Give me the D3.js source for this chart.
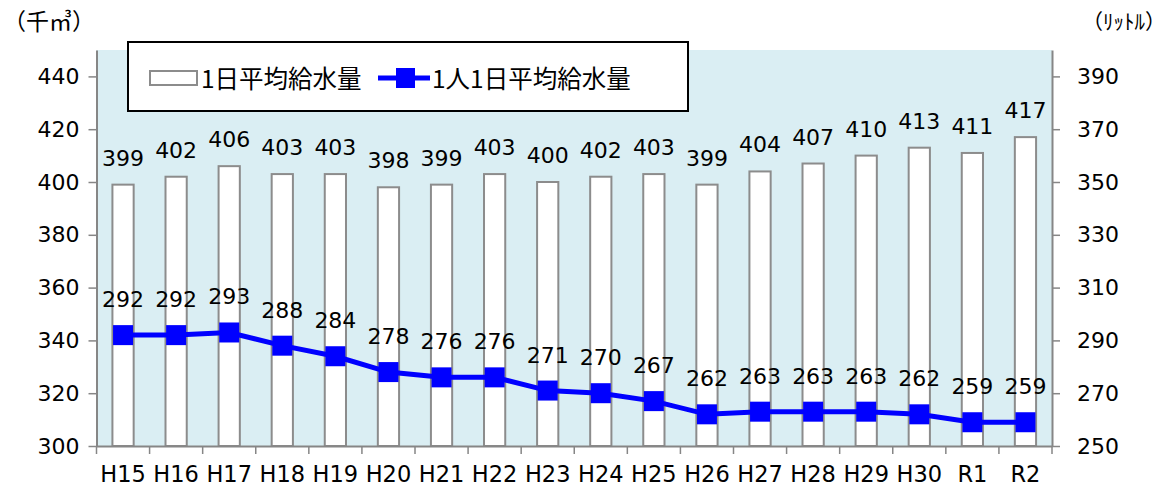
<!DOCTYPE html>
<html>
<head>
<meta charset="utf-8">
<script src="https://cdn.jsdelivr.net/npm/d3@7"></script>
<style>
  body { margin: 0; background: #fff; }
  svg { display: block; }
  text { font-family: "DejaVu Sans", "Noto Sans CJK JP", sans-serif; fill: #000; }
  .jp { font-family: "Noto Sans CJK JP", sans-serif; }
</style>
</head>
<body>
<svg id="chart"></svg>
<script>
// years
const years = ["H15", "H16", "H17", "H18", "H19", "H20", "H21", "H22", "H23",
               "H24", "H25", "H26", "H27", "H28", "H29", "H30", "R1", "R2"];
// 1日平均給水量 (千㎥)
const dailySupply = [399, 402, 406, 403, 403, 398, 399, 403, 400,
                     402, 403, 399, 404, 407, 410, 413, 411, 417];
// 1人1日平均給水量 (リットル)
const perCapita = [292, 292, 293, 288, 284, 278, 276, 276, 271,
                   270, 267, 262, 263, 263, 263, 262, 259, 259];
const leftTicks = [300, 320, 340, 360, 380, 400, 420, 440];
const rightTicks = [250, 270, 290, 310, 330, 350, 370, 390];

const width = 1170, height = 493;
const margin = { top: 50, right: 118, bottom: 47, left: 96.5 };

const svg = d3.select("#chart").attr("width", width).attr("height", height);

const x = d3.scaleBand()
    .domain(years)
    .range([margin.left, width - margin.right])
    .paddingInner(0.6)
    .paddingOuter(0.3);

const yL = d3.scaleLinear().domain([300, 450]).range([height - margin.bottom, margin.top]);
const yR = d3.scaleLinear().domain([250, 400]).range([height - margin.bottom, margin.top]);

const axisGray = "#868686";
const x0 = margin.left, x1 = width - margin.right;
const yb = height - margin.bottom;

// plot background
svg.append("rect")
    .attr("x", x0).attr("y", margin.top)
    .attr("width", x1 - x0).attr("height", yb - margin.top)
    .attr("fill", "#daeef3");

// bars
svg.append("g")
    .selectAll("rect")
    .data(dailySupply)
    .join("rect")
    .attr("x", (d, i) => x(years[i]))
    .attr("y", d => yL(d))
    .attr("width", x.bandwidth())
    .attr("height", d => yb - yL(d))
    .attr("fill", "#fff")
    .attr("stroke", "#8c8c8c")
    .attr("stroke-width", 2);

// left axis
const gL = svg.append("g")
    .attr("transform", `translate(${x0},0)`)
    .call(d3.axisLeft(yL).tickValues(leftTicks).tickSize(8).tickPadding(9).tickSizeOuter(0));
// right axis
const gR = svg.append("g")
    .attr("transform", `translate(${x1},0)`)
    .call(d3.axisRight(yR).tickValues(rightTicks).tickSize(8).tickPadding(17).tickSizeOuter(0));

[gL, gR].forEach(g => {
    g.select(".domain").attr("stroke", axisGray).attr("stroke-width", 2);
    g.selectAll(".tick line").attr("stroke", axisGray).attr("stroke-width", 1.5);
    g.selectAll(".tick text").attr("font-size", 22).attr("font-family", "DejaVu Sans").attr("fill", "#000");
});

// bottom axis: labels centred, ticks at category boundaries
const gB = svg.append("g")
    .attr("transform", `translate(0,${yb})`)
    .call(d3.axisBottom(x).tickSize(0).tickPadding(20).tickSizeOuter(0));
gB.select(".domain").attr("stroke", axisGray).attr("stroke-width", 2);
gB.selectAll(".tick text").attr("font-size", 22.5).attr("font-family", "DejaVu Sans").attr("fill", "#000");
gB.selectAll(".bound")
    .data(d3.range(years.length + 1))
    .join("line")
    .attr("class", "bound")
    .attr("x1", i => x0 + i * x.step())
    .attr("x2", i => x0 + i * x.step())
    .attr("y1", 0).attr("y2", 8)
    .attr("stroke", axisGray).attr("stroke-width", 1.5);

// bar value labels
svg.append("g")
    .selectAll("text")
    .data(dailySupply)
    .join("text")
    .attr("x", (d, i) => x(years[i]) + x.bandwidth() / 2)
    .attr("y", d => yL(d) - 19)
    .attr("text-anchor", "middle")
    .attr("font-size", 22)
    .text(d => d);

// per-capita line
const cx = i => x(years[i]) + x.bandwidth() / 2;
svg.append("path")
    .datum(perCapita)
    .attr("d", d3.line().x((d, i) => cx(i)).y(d => yR(d)))
    .attr("fill", "none")
    .attr("stroke", "#0000ff")
    .attr("stroke-width", 5);

svg.append("g")
    .selectAll("rect")
    .data(perCapita)
    .join("rect")
    .attr("x", (d, i) => cx(i) - 10)
    .attr("y", d => yR(d) - 10)
    .attr("width", 20).attr("height", 20)
    .attr("fill", "#0000ff");

svg.append("g")
    .selectAll("text")
    .data(perCapita)
    .join("text")
    .attr("x", (d, i) => cx(i))
    .attr("y", d => yR(d) - 28)
    .attr("text-anchor", "middle")
    .attr("font-size", 22)
    .text(d => d);

// legend
const lg = svg.append("g");
lg.append("rect")
    .attr("x", 128).attr("y", 42).attr("width", 560).attr("height", 69)
    .attr("fill", "#fff").attr("stroke", "#000").attr("stroke-width", 2);
lg.append("rect")
    .attr("x", 150).attr("y", 71).attr("width", 47).attr("height", 14)
    .attr("fill", "#fff").attr("stroke", "#8c8c8c").attr("stroke-width", 2);
lg.append("text").attr("class", "jp")
    .attr("x", 201).attr("y", 77).attr("dominant-baseline", "central")
    .attr("font-size", 24.5).text("1日平均給水量");
lg.append("line")
    .attr("x1", 378).attr("x2", 430).attr("y1", 78).attr("y2", 78)
    .attr("stroke", "#0000ff").attr("stroke-width", 5);
lg.append("rect")
    .attr("x", 396).attr("y", 68).attr("width", 19).attr("height", 20)
    .attr("fill", "#0000ff");
lg.append("text").attr("class", "jp")
    .attr("x", 432).attr("y", 77).attr("dominant-baseline", "central")
    .attr("font-size", 24.5).text("1人1日平均給水量");

// unit labels
svg.append("text").attr("class", "jp")
    .attr("x", 3).attr("y", 20).attr("dominant-baseline", "central")
    .attr("font-size", 23).text("（千㎥）");
svg.append("text").attr("class", "jp")
    .attr("x", 1166).attr("y", 20).attr("dominant-baseline", "central")
    .attr("text-anchor", "end")
    .attr("font-size", 21).text("（ﾘｯﾄﾙ）");
</script>
</body>
</html>
